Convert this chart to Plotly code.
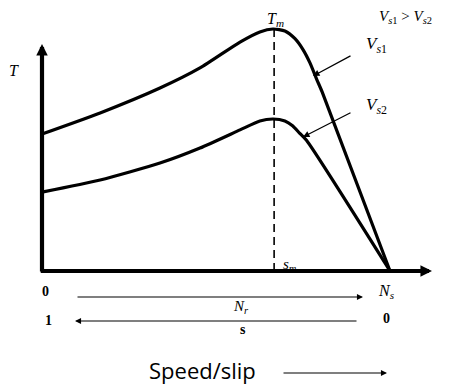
import plotly.graph_objects as go

# Data: speed as fraction of synchronous speed Ns, torque relative to Tm of Vs1
speed_vs1 = [0, 0.167, 0.339, 0.454, 0.569, 0.626, 0.664, 0.698, 0.727, 0.750, 0.770, 0.790, 0.805, 1.0]
torque_vs1 = [0.566, 0.653, 0.756, 0.839, 0.946, 0.988, 1.0, 0.992, 0.960, 0.915, 0.860, 0.790, 0.740, 0.0]
speed_vs2 = [0, 0.167, 0.339, 0.454, 0.569, 0.626, 0.664, 0.698, 0.720, 0.740, 0.760, 1.0]
torque_vs2 = [0.326, 0.376, 0.446, 0.508, 0.583, 0.620, 0.628, 0.620, 0.600, 0.570, 0.540, 0.0]
speed_tm = 0.667
torque_tm = 1.0

PX0, PY0, SX, SY = 42, 271, 348, 242
OFF = 8  # page body margin
def dx(px):
    return (px - PX0) / SX
def dy(py):
    return (PY0 - py) / SY

fig = go.Figure()
fig.add_trace(go.Scatter(x=speed_vs1, y=torque_vs1, mode="lines",
                         line=dict(color="black", width=3.2, shape="spline", smoothing=0.6),
                         hoverinfo="skip", showlegend=False))
fig.add_trace(go.Scatter(x=speed_vs2, y=torque_vs2, mode="lines",
                         line=dict(color="black", width=3.2, shape="spline", smoothing=0.6),
                         hoverinfo="skip", showlegend=False))
# dashed line at s_m
fig.add_trace(go.Scatter(x=[speed_tm, speed_tm], y=[0, torque_tm], mode="lines",
                         line=dict(color="black", width=1.6, dash="8px,5px"),
                         hoverinfo="skip", showlegend=False))

ann = []
def arrow(x0, y0, x1, y1, w=1.2, head=2, size=1.0):
    ann.append(dict(x=x1, y=y1, ax=x0, ay=y0, xref="x", yref="y", axref="x", ayref="y",
                    showarrow=True, arrowhead=head, arrowwidth=w, arrowsize=size,
                    arrowcolor="black", text=""))

# main axes
arrow(0, -0.008, 0, dy(44), w=4.2, head=2, size=0.55)
arrow(-0.008, 0, dx(432), 0, w=4.2, head=2, size=0.55)
# pointer arrows
arrow(dx(352), dy(55), dx(313), dy(76), w=1.3, head=2, size=1.0)
arrow(dx(352), dy(112), dx(303), dy(137), w=1.3, head=2, size=1.0)
# Nr, s arrows
arrow(dx(76), dy(297), dx(363), dy(297), w=1.1, head=2, size=1.1)
arrow(dx(358), dy(321), dx(75), dy(321), w=1.1, head=2, size=1.1)
arrow(dx(282), dy(373), dx(387), dy(373), w=1.1, head=2, size=1.1)

def label(px, py, text, size=14, family="DejaVu Serif", anchor="center"):
    ann.append(dict(x=dx(px), y=dy(py), xref="x", yref="y", text=text, showarrow=False,
                    font=dict(family=family, size=size, color="black"), xanchor=anchor,
                    yanchor="middle"))

serif = "Liberation Serif"
label(14, 70, "<i>T</i>", 16, serif)
label(275, 19, "<i>T</i><sub><i>m</i></sub>", 16, serif)
label(405, 17, "<i>V</i><sub><i>s</i>1</sub> &gt; <i>V</i><sub><i>s</i>2</sub>", 15, serif)
label(376, 45, "<i>V</i><sub><i>s</i>1</sub>", 17, serif)
label(376, 106, "<i>V</i><sub><i>s</i>2</sub>", 17, serif)
label(290, 265, "<i>s</i><sub><i>m</i></sub>", 15, serif)
label(45, 291, "<b>0</b>", 14, serif)
label(386, 291, "<i>N</i><sub><i>s</i></sub>", 16, serif)
label(241, 307, "<i>N</i><sub><i>r</i></sub>", 15, serif)
label(48, 320, "<b>1</b>", 14, serif)
label(386, 318, "<b>0</b>", 14, serif)
label(243, 329, "<b>s</b>", 14, serif)
label(202, 370, "Speed/slip", 22, "Open Sans")

fig.update_layout(
    width=468 - OFF, height=384 - OFF, margin=dict(l=0, r=0, t=0, b=0),
    paper_bgcolor="white", plot_bgcolor="white",
    xaxis=dict(range=[dx(OFF), dx(468)], visible=False, fixedrange=True),
    yaxis=dict(range=[dy(384), dy(OFF)], visible=False, fixedrange=True),
    annotations=ann,
)
fig.write_html("out.html")
